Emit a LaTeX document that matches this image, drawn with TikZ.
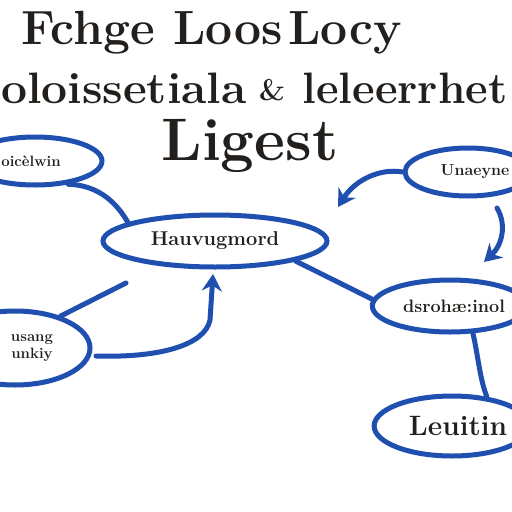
\documentclass[tikz,border=0pt]{standalone}
\usetikzlibrary{shapes.geometric,arrows.meta}
\definecolor{pen}{HTML}{1F50B0}
\definecolor{ink}{HTML}{231F1C}
\tikzset{
  bub/.style={ellipse,draw=pen,line width=5pt,inner sep=0pt,text=ink,font=\bfseries},
  con/.style={draw=pen,line width=5pt,line cap=round},
  arr/.style={con,-{Stealth[length=17pt,width=20pt]}},
  ttl/.style={text=ink,font=\bfseries,inner sep=0pt,anchor=base}
}
\begin{document}
\begin{tikzpicture}[x=1pt,y=-1pt]
\useasboundingbox (0,0) rectangle (512,512);
\clip (0,0) rectangle (512,512);
\fill[white] (0,0) rectangle (512,512);
% titles
\node[ttl,font=\bfseries\fontsize{48}{50}\selectfont] (t1) at (88,44) {Fchge};
\node[ttl,font=\bfseries\fontsize{48}{50}\selectfont] (t2) at (228,44) {Loos};
\node[ttl,font=\bfseries\fontsize{48}{50}\selectfont] (t3) at (345,44) {Locy};
\node[ttl,font=\bfseries\fontsize{44}{46}\selectfont,xscale=1.05] (t4) at (124,103) {oloissetiala};
\node[ttl,font=\bfseries\fontsize{30}{40}\selectfont] (t5) at (272,100) {\&};
\node[ttl,font=\bfseries\fontsize{44}{46}\selectfont] (t6) at (405,103) {leleerrhet};
\node[ttl,font=\bfseries\fontsize{60}{62}\selectfont] (t7) at (250,160) {Ligest};
% bubbles
\node[bub,minimum width=134pt,minimum height=48pt,font=\bfseries\fontsize{15}{16}\selectfont] (a) at (35,161) {\hspace*{-8pt}oicèlwin};
\node[bub,minimum width=224pt,minimum height=52pt,font=\bfseries\fontsize{20}{22}\selectfont] (b) at (215,241) {Hauvugmord};
\node[bub,minimum width=126pt,minimum height=48pt,font=\bfseries\fontsize{16}{18}\selectfont] (c) at (468,172) {\hspace*{14pt}Unaeyne};
\node[bub,minimum width=152pt,minimum height=52pt,font=\bfseries\fontsize{18}{20}\selectfont] (d) at (450,306) {\hspace*{8pt}dsrohæ:inol};
\node[bub,minimum width=150pt,minimum height=74pt,font=\bfseries\fontsize{15}{17}\selectfont,align=center] (e) at (15,348) {\hspace*{34pt}usang\\\hspace*{34pt}unkiy};
\node[bub,minimum width=148pt,minimum height=60pt,font=\bfseries\fontsize{28}{30}\selectfont] (f) at (452,426) {\hspace*{12pt}Leuitin};
% free ends
\coordinate (c1) at (338,207);
\coordinate (c2s) at (497,208);
\coordinate (c2) at (484,262);
\coordinate (e1) at (126,283);
\coordinate (e2s) at (96,356);
\coordinate (e2) at (213,274);
% connectors
\draw[con] (a.-35) .. controls (100,185) and (118,205) .. (b.168);
\draw[con] (b.-14) -- (d.175);
\draw[arr] (c.west) .. controls (380,168) and (355,180) .. (c1);
\draw[arr] (c2s) .. controls (507,225) and (502,245) .. (c2);
\draw[con] (d.-50) .. controls (478,355) and (480,380) .. (f.40);
\draw[con] (e.35) -- (e1);
\draw[arr] (e2s) .. controls (160,358) and (205,345) .. (210,320) -- (e2);
\end{tikzpicture}
\end{document}
